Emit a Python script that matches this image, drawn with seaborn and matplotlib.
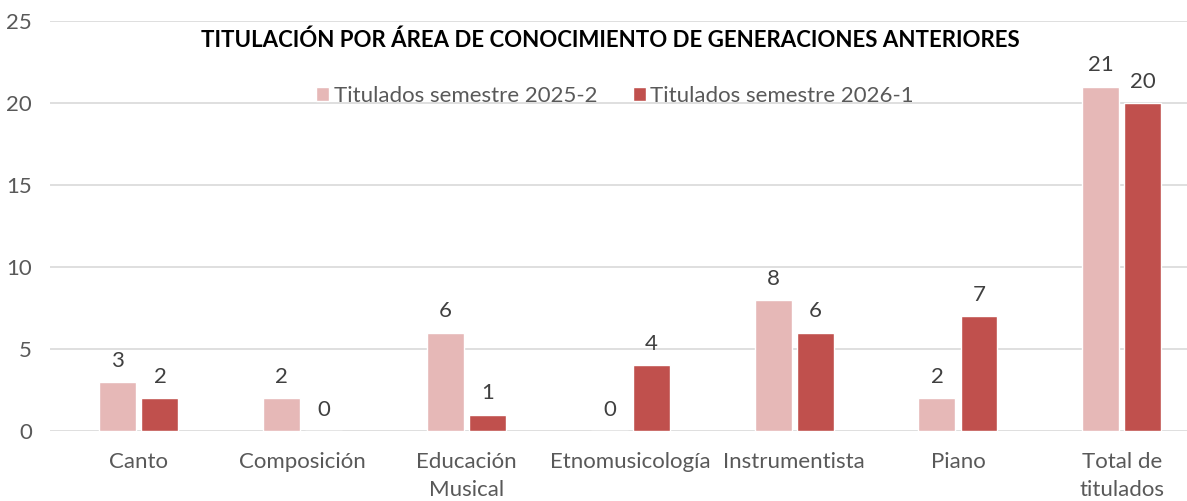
import pandas as pd
import matplotlib
matplotlib.use('Agg')
import matplotlib.pyplot as plt
import seaborn as sns

# Chart data
categorias = ['Canto', 'Composición', 'Educación\nMusical', 'Etnomusicología',
              'Instrumentista', 'Piano', 'Total de\ntitulados']
titulados_2025_2 = [3, 2, 6, 0, 8, 2, 21]
titulados_2026_1 = [2, 0, 1, 4, 6, 7, 20]
series = ['Titulados semestre 2025-2', 'Titulados semestre 2026-1']
colores = ['#E6B8B7', '#C0504D']

df = pd.DataFrame({
    'categoria': categorias * 2,
    'serie': [series[0]] * len(categorias) + [series[1]] * len(categorias),
    'valor': titulados_2025_2 + titulados_2026_1,
})

sns.set_style('white')
plt.rcParams['font.family'] = ['Lato', 'DejaVu Sans']
gris = '#595959'

fig = plt.figure(figsize=(11.87, 5.01), dpi=100)
ax = fig.add_axes([50 / 1187, 70 / 501, 1 - 50 / 1187, 410 / 501])

sns.barplot(data=df, x='categoria', y='valor', hue='serie', order=categorias,
            hue_order=series, palette=colores, width=0.513, gap=0.12,
            saturation=1, ax=ax, zorder=3)

# value labels over the bars
for cont in ax.containers:
    ax.bar_label(cont, fmt='%d', padding=8, fontsize=16, color='#404040')

ax.set_ylim(0, 25)
ax.set_xlim(-0.543, 6.398)
ax.set_yticks(range(0, 26, 5))
ax.yaxis.grid(True, color='#D9D9D9', lw=1.2, zorder=0)
ax.xaxis.grid(False)
for s in ax.spines.values():
    s.set_visible(False)
ax.tick_params(axis='both', length=0, labelsize=16, labelcolor=gris)
ax.tick_params(axis='x', pad=15)
ax.tick_params(axis='y', pad=13)
for lbl in ax.get_xticklabels():
    lbl.set_multialignment('center')
    lbl.set_linespacing(1.5)
ax.set_xlabel('')
ax.set_ylabel('')

handles, labels = ax.get_legend_handles_labels()
ax.get_legend().remove()
fig.legend(handles, labels, loc='center', bbox_to_anchor=(615 / 1187, 1 - 96 / 501),
           ncol=2, frameon=False, fontsize=16, labelcolor=gris,
           handlelength=0.6, handleheight=0.6, handletextpad=0.2,
           columnspacing=1.6)

fig.text(610 / 1187, 1 - 40 / 501,
         'TITULACIÓN POR ÁREA DE CONOCIMIENTO DE GENERACIONES ANTERIORES',
         ha='center', va='center', fontsize=16, fontweight='bold', color='black')

fig.savefig('out.png', dpi=100)
